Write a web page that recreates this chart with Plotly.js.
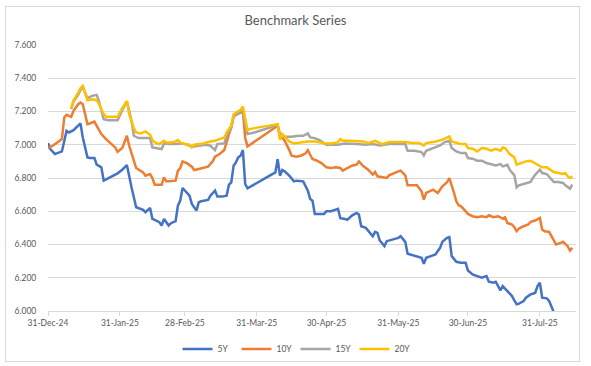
<!DOCTYPE html>
<html>
<head>
<meta charset="utf-8">
<script src="https://cdn.plot.ly/plotly-3.0.1.min.js"></script>
<style>
  html, body { margin: 0; padding: 0; background: #ffffff; }
  #frame { position: absolute; left: 5px; top: 6px; width: 575px; height: 356px; border: 1px solid #d9d9d9; box-sizing: border-box; }
  #chart { position: absolute; left: 0; top: 0; width: 591px; height: 366px; }
</style>
</head>
<body>
<div id="frame"></div>
<div id="chart"></div>
<script>
// ---- data ----
const seriesNames = ["5Y", "10Y", "15Y", "20Y"];
const seriesColors = ["#4472C4", "#ED7D31", "#A5A5A5", "#FFC000"];

const dates5Y = ["2024-12-31","2025-01-01","2025-01-03","2025-01-06","2025-01-08","2025-01-09","2025-01-11","2025-01-12","2025-01-14","2025-01-15","2025-01-17","2025-01-18","2025-01-20","2025-01-21","2025-01-23","2025-01-24","2025-01-27","2025-01-30","2025-02-01","2025-02-03","2025-02-05","2025-02-06","2025-02-07","2025-02-10","2025-02-11","2025-02-13","2025-02-14","2025-02-15","2025-02-17","2025-02-18","2025-02-19","2025-02-20","2025-02-21","2025-02-22","2025-02-24","2025-02-25","2025-02-26","2025-02-27","2025-02-28","2025-03-02","2025-03-03","2025-03-05","2025-03-06","2025-03-07","2025-03-10","2025-03-11","2025-03-13","2025-03-14","2025-03-16","2025-03-18","2025-03-19","2025-03-20","2025-03-21","2025-03-22","2025-03-23","2025-03-24","2025-03-25","2025-03-26","2025-03-27","2025-04-08","2025-04-09","2025-04-10","2025-04-11","2025-04-12","2025-04-14","2025-04-16","2025-04-17","2025-04-20","2025-04-22","2025-04-23","2025-04-24","2025-04-25","2025-04-27","2025-04-29","2025-04-30","2025-05-02","2025-05-05","2025-05-06","2025-05-08","2025-05-09","2025-05-11","2025-05-13","2025-05-14","2025-05-15","2025-05-17","2025-05-18","2025-05-20","2025-05-21","2025-05-22","2025-05-23","2025-05-24","2025-05-25","2025-05-26","2025-05-29","2025-05-31","2025-06-01","2025-06-03","2025-06-04","2025-06-06","2025-06-08","2025-06-10","2025-06-11","2025-06-12","2025-06-14","2025-06-16","2025-06-18","2025-06-19","2025-06-21","2025-06-22","2025-06-23","2025-06-25","2025-06-27","2025-06-29","2025-06-30","2025-07-02","2025-07-04","2025-07-06","2025-07-08","2025-07-09","2025-07-11","2025-07-12","2025-07-14","2025-07-15","2025-07-17","2025-07-19","2025-07-20","2025-07-21","2025-07-22","2025-07-24","2025-07-25","2025-07-27","2025-07-28","2025-07-29","2025-07-30","2025-07-31","2025-08-01","2025-08-03","2025-08-04","2025-08-05","2025-08-06","2025-08-07"];
const values5Y = [7.010,6.974,6.944,6.960,7.084,7.074,7.088,7.100,7.128,7.044,6.924,6.920,6.920,6.880,6.864,6.784,6.804,6.828,6.850,6.878,6.744,6.684,6.624,6.608,6.594,6.620,6.554,6.548,6.534,6.514,6.554,6.534,6.514,6.528,6.540,6.634,6.664,6.740,6.724,6.694,6.644,6.604,6.654,6.660,6.668,6.694,6.724,6.688,6.688,6.694,6.760,6.774,6.874,6.894,6.924,6.934,6.968,6.764,6.738,6.834,6.914,6.814,6.848,6.840,6.814,6.780,6.784,6.780,6.724,6.674,6.664,6.584,6.584,6.584,6.600,6.600,6.614,6.558,6.554,6.548,6.574,6.590,6.580,6.510,6.500,6.484,6.450,6.476,6.470,6.424,6.410,6.390,6.420,6.430,6.440,6.450,6.416,6.344,6.336,6.324,6.320,6.284,6.320,6.330,6.340,6.380,6.416,6.440,6.444,6.330,6.296,6.290,6.290,6.244,6.220,6.210,6.200,6.210,6.176,6.170,6.176,6.124,6.150,6.120,6.090,6.064,6.040,6.044,6.060,6.080,6.100,6.104,6.110,6.150,6.170,6.080,6.076,6.060,6.024,5.995,5.960];

const dates10Y = ["2024-12-31","2025-01-02","2025-01-04","2025-01-06","2025-01-07","2025-01-08","2025-01-10","2025-01-11","2025-01-13","2025-01-14","2025-01-15","2025-01-17","2025-01-18","2025-01-20","2025-01-21","2025-01-23","2025-01-25","2025-01-27","2025-01-29","2025-01-30","2025-02-01","2025-02-03","2025-02-04","2025-02-06","2025-02-07","2025-02-10","2025-02-11","2025-02-13","2025-02-14","2025-02-15","2025-02-16","2025-02-18","2025-02-19","2025-02-20","2025-02-21","2025-02-24","2025-02-25","2025-02-26","2025-02-27","2025-03-01","2025-03-03","2025-03-04","2025-03-06","2025-03-08","2025-03-10","2025-03-12","2025-03-13","2025-03-15","2025-03-17","2025-03-19","2025-03-20","2025-03-21","2025-03-22","2025-03-24","2025-03-25","2025-03-26","2025-03-27","2025-04-09","2025-04-10","2025-04-11","2025-04-12","2025-04-14","2025-04-15","2025-04-17","2025-04-19","2025-04-21","2025-04-22","2025-04-23","2025-04-24","2025-04-26","2025-04-28","2025-04-30","2025-05-02","2025-05-04","2025-05-06","2025-05-07","2025-05-09","2025-05-11","2025-05-13","2025-05-14","2025-05-16","2025-05-18","2025-05-20","2025-05-21","2025-05-22","2025-05-24","2025-05-26","2025-05-27","2025-05-29","2025-05-31","2025-06-01","2025-06-03","2025-06-04","2025-06-06","2025-06-08","2025-06-10","2025-06-11","2025-06-12","2025-06-14","2025-06-15","2025-06-17","2025-06-19","2025-06-21","2025-06-22","2025-06-24","2025-06-25","2025-06-26","2025-06-27","2025-06-28","2025-06-30","2025-07-02","2025-07-04","2025-07-06","2025-07-08","2025-07-09","2025-07-11","2025-07-13","2025-07-15","2025-07-16","2025-07-17","2025-07-19","2025-07-20","2025-07-21","2025-07-22","2025-07-24","2025-07-26","2025-07-27","2025-07-29","2025-07-31","2025-08-01","2025-08-02","2025-08-04","2025-08-05","2025-08-07","2025-08-09","2025-08-10","2025-08-12","2025-08-13","2025-08-14"];
const values10Y = [6.980,6.994,7.014,7.034,7.164,7.180,7.168,7.204,7.244,7.254,7.244,7.124,7.128,7.140,7.114,7.064,7.034,7.008,6.984,6.958,6.980,7.054,6.994,6.904,6.860,6.834,6.814,6.824,6.800,6.760,6.760,6.760,6.804,6.780,6.780,6.784,6.844,6.860,6.900,6.888,6.868,6.848,6.854,6.860,6.868,6.900,6.928,6.944,6.968,7.064,7.104,7.174,7.180,7.194,7.200,7.040,6.990,7.114,7.044,7.044,7.024,6.968,6.934,6.928,6.934,6.948,6.968,6.940,6.914,6.904,6.888,6.864,6.860,6.864,6.860,6.844,6.860,6.874,6.880,6.900,6.870,6.850,6.820,6.836,6.810,6.804,6.800,6.816,6.830,6.840,6.844,6.816,6.756,6.756,6.756,6.720,6.670,6.710,6.724,6.730,6.710,6.750,6.774,6.800,6.710,6.660,6.636,6.630,6.616,6.584,6.570,6.564,6.570,6.564,6.576,6.564,6.570,6.556,6.564,6.530,6.520,6.504,6.480,6.496,6.510,6.520,6.536,6.544,6.560,6.490,6.480,6.476,6.450,6.400,6.410,6.416,6.390,6.364,6.380];

const dates15Y = ["2025-01-10","2025-01-11","2025-01-13","2025-01-14","2025-01-15","2025-01-17","2025-01-19","2025-01-21","2025-01-22","2025-01-24","2025-01-26","2025-01-30","2025-02-01","2025-02-03","2025-02-05","2025-02-06","2025-02-08","2025-02-10","2025-02-13","2025-02-14","2025-02-16","2025-02-18","2025-02-19","2025-02-21","2025-02-24","2025-02-27","2025-03-01","2025-03-03","2025-03-06","2025-03-09","2025-03-11","2025-03-13","2025-03-14","2025-03-17","2025-03-18","2025-03-20","2025-03-21","2025-03-23","2025-03-25","2025-03-26","2025-03-27","2025-03-30","2025-04-09","2025-04-10","2025-04-11","2025-04-13","2025-04-15","2025-04-18","2025-04-20","2025-04-22","2025-04-23","2025-04-25","2025-04-27","2025-04-30","2025-05-02","2025-05-05","2025-05-08","2025-05-11","2025-05-13","2025-05-17","2025-05-20","2025-05-23","2025-05-27","2025-06-03","2025-06-04","2025-06-07","2025-06-10","2025-06-11","2025-06-12","2025-06-15","2025-06-18","2025-06-20","2025-06-22","2025-06-23","2025-06-25","2025-06-27","2025-06-29","2025-06-30","2025-07-02","2025-07-04","2025-07-06","2025-07-08","2025-07-10","2025-07-12","2025-07-14","2025-07-15","2025-07-17","2025-07-18","2025-07-20","2025-07-21","2025-07-22","2025-07-25","2025-07-27","2025-07-28","2025-07-29","2025-07-31","2025-08-01","2025-08-03","2025-08-04","2025-08-06","2025-08-08","2025-08-10","2025-08-11","2025-08-13","2025-08-14"];
const values15Y = [7.214,7.260,7.300,7.330,7.348,7.280,7.294,7.300,7.260,7.154,7.148,7.148,7.208,7.260,7.144,7.054,7.040,7.040,7.040,6.984,6.980,6.974,7.008,7.004,7.004,7.008,7.000,6.988,6.994,7.000,6.994,6.968,7.004,7.008,7.054,7.104,7.168,7.188,7.214,7.124,7.064,7.074,7.118,7.064,7.048,7.048,7.048,7.054,7.054,7.068,7.044,7.040,7.028,7.000,7.000,7.000,7.008,7.008,7.004,7.000,7.004,6.996,7.004,7.004,6.964,6.964,6.956,6.936,6.964,6.980,6.996,7.016,7.024,6.980,6.960,6.950,6.950,6.920,6.916,6.904,6.904,6.890,6.884,6.876,6.884,6.870,6.880,6.850,6.816,6.744,6.756,6.770,6.776,6.800,6.820,6.850,6.830,6.824,6.810,6.776,6.776,6.770,6.756,6.736,6.760];

const dates20Y = ["2025-01-10","2025-01-11","2025-01-13","2025-01-14","2025-01-15","2025-01-16","2025-01-17","2025-01-19","2025-01-21","2025-01-22","2025-01-24","2025-01-25","2025-01-28","2025-01-30","2025-02-01","2025-02-03","2025-02-04","2025-02-06","2025-02-07","2025-02-09","2025-02-11","2025-02-13","2025-02-14","2025-02-15","2025-02-17","2025-02-19","2025-02-20","2025-02-22","2025-02-24","2025-02-25","2025-02-26","2025-02-28","2025-03-02","2025-03-03","2025-03-04","2025-03-06","2025-03-08","2025-03-11","2025-03-13","2025-03-15","2025-03-17","2025-03-18","2025-03-20","2025-03-21","2025-03-23","2025-03-24","2025-03-25","2025-03-26","2025-03-27","2025-03-28","2025-03-30","2025-04-09","2025-04-10","2025-04-11","2025-04-12","2025-04-14","2025-04-16","2025-04-19","2025-04-22","2025-04-25","2025-04-27","2025-04-30","2025-05-02","2025-05-05","2025-05-06","2025-05-07","2025-05-10","2025-05-13","2025-05-16","2025-05-18","2025-05-21","2025-05-24","2025-05-27","2025-05-31","2025-06-03","2025-06-06","2025-06-09","2025-06-11","2025-06-12","2025-06-15","2025-06-19","2025-06-22","2025-06-23","2025-06-27","2025-06-29","2025-06-30","2025-07-02","2025-07-04","2025-07-06","2025-07-08","2025-07-10","2025-07-12","2025-07-14","2025-07-15","2025-07-16","2025-07-18","2025-07-20","2025-07-21","2025-07-23","2025-07-25","2025-07-27","2025-07-28","2025-07-30","2025-08-01","2025-08-03","2025-08-04","2025-08-06","2025-08-08","2025-08-10","2025-08-11","2025-08-12","2025-08-13","2025-08-14"];
const values20Y = [7.220,7.268,7.314,7.340,7.354,7.314,7.268,7.274,7.268,7.244,7.184,7.168,7.168,7.168,7.220,7.264,7.184,7.100,7.074,7.068,7.080,7.060,7.028,7.014,7.004,7.024,7.014,7.014,7.020,7.028,7.014,7.004,7.000,6.984,7.000,7.004,7.008,7.020,7.024,7.034,7.044,7.074,7.114,7.184,7.204,7.210,7.230,7.150,7.088,7.094,7.100,7.124,7.030,7.064,7.048,7.020,7.008,7.014,7.020,7.020,7.014,7.008,7.008,7.014,7.034,7.024,7.024,7.020,7.020,7.010,7.024,7.004,7.016,7.016,7.016,7.010,7.010,6.996,7.010,7.016,7.030,7.050,7.020,7.004,7.004,6.980,6.976,6.960,6.980,6.976,6.964,6.976,6.964,6.984,6.980,6.944,6.924,6.880,6.890,6.900,6.904,6.896,6.880,6.864,6.864,6.856,6.836,6.830,6.824,6.830,6.810,6.800,6.810];

const tickDates = ["2024-12-31","2025-01-31","2025-02-28","2025-03-31","2025-04-30","2025-05-31","2025-06-30","2025-07-31"];
const tickLabels = ["31-Dec-24","31-Jan-25","28-Feb-25","31-Mar-25","30-Apr-25","31-May-25","30-Jun-25","31-Jul-25"];
const yTicks = [6.0, 6.2, 6.4, 6.6, 6.8, 7.0, 7.2, 7.4, 7.6];

// ---- chart ----
const allDates = [dates5Y, dates10Y, dates15Y, dates20Y];
const allValues = [values5Y, values10Y, values15Y, values20Y];
const FONT = "Lato, 'Open Sans', sans-serif";
const textColor = "#595959";
const gridColor = "#d9d9d9";

const traces = seriesNames.map((name, i) => ({
  type: "scatter",
  mode: "lines",
  name: name,
  x: allDates[i],
  y: allValues[i],
  line: { color: seriesColors[i], width: 2.5 },
  hoverinfo: "x+y+name"
}));

const layout = {
  width: 591,
  height: 366,
  margin: { l: 48, r: 15, t: 45, b: 55, autoexpand: false },
  paper_bgcolor: "rgba(0,0,0,0)",
  plot_bgcolor: "rgba(0,0,0,0)",
  font: { family: FONT, color: textColor, size: 8 },
  title: {
    text: "Benchmark Series",
    font: { family: FONT, size: 13, color: textColor },
    x: 0.5, xanchor: "center",
    y: 1 - 20 / 366, yanchor: "middle", yref: "container"
  },
  showlegend: true,
  legend: {
    orientation: "h",
    xref: "container", yref: "container",
    x: 0.5, xanchor: "center",
    y: 1 - 349 / 366, yanchor: "middle",
    font: { family: FONT, size: 8.5, color: textColor },
    itemwidth: 30,
    entrywidth: 14,
    entrywidthmode: "pixels",
    traceorder: "normal"
  },
  xaxis: {
    type: "date",
    range: ["2024-12-31", "2025-08-15 14:00"],
    tickvals: tickDates,
    ticktext: tickLabels,
    showgrid: false,
    zeroline: false,
    showline: true,
    linecolor: gridColor,
    linewidth: 1,
    ticks: "outside",
    ticklen: 4,
    tickcolor: gridColor,
    tickfont: { family: FONT, size: 8.5, color: textColor },
    fixedrange: true
  },
  yaxis: {
    range: [6.0, 7.6],
    tickvals: yTicks,
    tickformat: ".3f",
    showgrid: true,
    gridcolor: gridColor,
    gridwidth: 1,
    zeroline: false,
    showline: false,
    ticks: "outside",
    ticklen: 9,
    tickcolor: "rgba(0,0,0,0)",
    tickfont: { family: FONT, size: 8.5, color: textColor },
    fixedrange: true
  }
};

Plotly.newPlot("chart", traces, layout, { displayModeBar: false, staticPlot: true });
</script>
</body>
</html>
